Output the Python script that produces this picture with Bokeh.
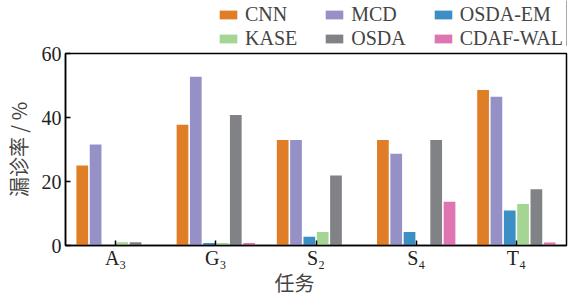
from bokeh.plotting import figure
from bokeh.layouts import column
from bokeh.models import ColumnDataSource, Legend, LegendItem, Range1d, FactorRange, FixedTicker, Label
from bokeh.transform import dodge
from bokeh.embed import file_html
from bokeh.resources import INLINE

tasks = ["A₃", "G₃", "S₂", "S₄", "T₄"]
methods = ["CNN", "MCD", "OSDA-EM", "KASE", "OSDA", "CDAF-WAL"]
colors = ["#E07E27", "#9591C7", "#3C8FC5", "#A4D595", "#818285", "#DE74B1"]

cnn = [25.0, 37.7, 33.0, 33.0, 48.6]
mcd = [31.6, 52.7, 33.0, 28.7, 46.5]
osda_em = [0.0, 0.8, 2.7, 4.2, 10.9]
kase = [1.0, 0.8, 4.2, 0.0, 13.0]
osda = [1.0, 40.8, 21.9, 33.0, 17.6]
cdaf_wal = [0.0, 0.8, 0.0, 13.7, 0.9]

series = [cnn, mcd, osda_em, kase, osda, cdaf_wal]
keys = ["cnn", "mcd", "osda_em", "kase", "osda", "cdaf_wal"]

data = {"task": tasks}
for k, s in zip(keys, series):
    data[k] = s
src = ColumnDataSource(data)

SERIF = "Liberation Serif"
CJK = "Noto Sans CJK SC"

p = figure(width=568, height=225, x_range=FactorRange(*tasks), y_range=Range1d(0, 60),
           output_backend="svg", toolbar_location=None,
           min_border_left=60, min_border_right=2, min_border_top=7, min_border_bottom=26)

step = 0.133
bw = 0.117
for i, (k, c) in enumerate(zip(keys, colors)):
    off = (i - 2.5) * step
    p.vbar(x=dodge("task", off, range=p.x_range), top=k, width=bw, source=src,
           fill_color=c, line_color=None)

p.xgrid.grid_line_color = None
p.ygrid.grid_line_color = None
p.outline_line_color = "black"
p.outline_line_width = 1.5

p.yaxis.ticker = FixedTicker(ticks=[0, 20, 40, 60])
p.yaxis.minor_tick_line_color = None
p.yaxis.major_tick_in = 5
p.yaxis.major_tick_out = 0
p.xaxis.major_tick_in = 5
p.xaxis.major_tick_out = 0
for ax in (p.xaxis, p.yaxis):
    ax.axis_line_width = 1.5
    ax.major_tick_line_width = 1.5
    ax.major_label_text_font = SERIF
    ax.major_label_text_font_size = "20px"
    ax.major_label_text_color = "#222222"
p.xaxis.major_label_standoff = 1
p.yaxis.major_label_standoff = 4

p.yaxis.axis_label = "漏诊率 / %"
p.yaxis.axis_label_text_font = CJK
p.yaxis.axis_label_text_font_size = "20px"
p.yaxis.axis_label_text_font_style = "normal"
p.yaxis.axis_label_standoff = 6

# legend in a separate strip above the plot
lf = figure(width=568, height=46, x_range=Range1d(0, 1), y_range=Range1d(0, 1),
            output_backend="svg", toolbar_location=None, x_axis_type=None, y_axis_type=None,
            min_border_left=60, min_border_right=2, min_border_top=0, min_border_bottom=0)
lf.outline_line_color = None
lf.xgrid.grid_line_color = None
lf.ygrid.grid_line_color = None
dummy = ColumnDataSource(dict(x=[5.0], top=[5.0]))
lrs = [lf.vbar(x="x", top="top", width=0.1, source=dummy, fill_color=c, line_color=None)
       for c in colors]

pad = "\u00a0" * 5
order = [0, 3, 1, 4, 2, 5]
items = []
for i in order:
    lab = methods[i] + (pad if i in (0, 3, 1, 4) else "")
    items.append(LegendItem(label=lab, renderers=[lrs[i]]))
legend = Legend(items=items, orientation="vertical", nrows=2, location=(152, -4),
                label_text_font=SERIF, label_text_font_size="20px",
                glyph_width=22, glyph_height=11, label_height=20, label_standoff=6,
                spacing=1, padding=0, margin=0, border_line_color=None,
                background_fill_alpha=0)
lf.add_layout(legend, "center")

# x-axis title strip below the plot
bf = figure(width=568, height=22, x_range=Range1d(0, 1), y_range=Range1d(0, 1),
            output_backend="svg", toolbar_location=None, x_axis_type=None, y_axis_type=None,
            min_border_left=60, min_border_right=2, min_border_top=0, min_border_bottom=0)
bf.outline_line_color = None
bf.xgrid.grid_line_color = None
bf.ygrid.grid_line_color = None
bf.add_layout(Label(x=229, y=0.5, x_units="screen", y_units="data", text="任务",
                    text_font=CJK, text_font_size="20px", text_align="center",
                    text_baseline="middle"))

layout = column(lf, p, bf, spacing=0)
open("out.html", "w").write(file_html(layout, INLINE))
